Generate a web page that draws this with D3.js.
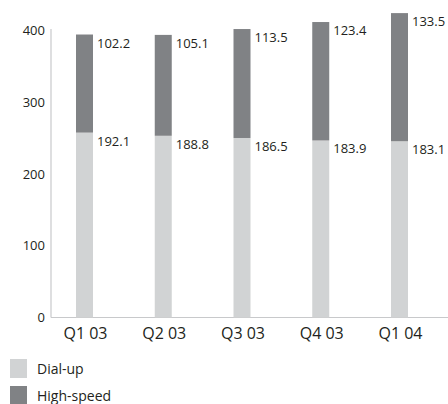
<!DOCTYPE html>
<html><head><meta charset="utf-8">
<script src="https://cdn.jsdelivr.net/npm/d3@7"></script>
<style>
html,body{margin:0;padding:0;background:#fff;}
svg{display:block;font-family:"Open Sans",sans-serif;}
</style></head>
<body><svg id="c" width="448" height="404"></svg>
<script>
const categories = ["Q1 03","Q2 03","Q3 03","Q4 03","Q1 04"];
const dialup = [192.1,188.8,186.5,183.9,183.1];
const highspeed = [102.2,105.1,113.5,123.4,133.5];
const yTicks = [0,100,200,300,400];
const seriesNames = ["Dial-up","High-speed"];
const colors = ["#d1d3d4","#808285"];

const svg = d3.select("#c");
const y0 = 317, yTop = 30;
const yAxis = d3.scaleLinear().domain([0,400]).range([y0,yTop]);
// bars in the original are drawn at a different vertical scale than the axis
const yBar = d3.scaleLinear().domain([0,299]).range([y0,yTop]);
const x = d3.scalePoint().domain(categories).range([84.5,399.5]);
const bw = 17;

// axis lines
svg.append("line").attr("x1",51).attr("x2",51).attr("y1",29).attr("y2",y0+0.5)
  .attr("stroke","#c8c9cb").attr("stroke-width",1.2);
svg.append("line").attr("x1",51).attr("x2",448).attr("y1",y0+0.5).attr("y2",y0+0.5)
  .attr("stroke","#c8c9cb").attr("stroke-width",1.2);

svg.selectAll("text.yt").data(yTicks).enter().append("text")
  .attr("class","yt").attr("x",45).attr("y",d=>yAxis(d)+5)
  .attr("text-anchor","end").attr("font-size",13).attr("fill","#231f20").text(d=>d);

const data = categories.map((c,i)=>({c, d:dialup[i], h:highspeed[i]}));
const g = svg.append("g");
g.selectAll("rect.d").data(data).enter().append("rect")
  .attr("x",d=>x(d.c)-bw/2).attr("width",bw)
  .attr("y",d=>yBar(d.d)).attr("height",d=>y0+0.5-yBar(d.d)).attr("fill",colors[0]);
g.selectAll("rect.h").data(data).enter().append("rect")
  .attr("x",d=>x(d.c)-bw/2).attr("width",bw)
  .attr("y",d=>yBar(d.d+d.h)).attr("height",d=>yBar(d.d)-yBar(d.d+d.h)).attr("fill",colors[1]);

g.selectAll("text.dl").data(data).enter().append("text")
  .attr("x",d=>x(d.c)+bw/2+4).attr("y",d=>yBar(d.d)+13)
  .attr("font-size",13).attr("fill","#231f20").text(d=>d.d.toFixed(1));
g.selectAll("text.hl").data(data).enter().append("text")
  .attr("x",d=>x(d.c)+bw/2+4).attr("y",d=>yBar(d.d+d.h)+13)
  .attr("font-size",13).attr("fill","#231f20").text(d=>d.h.toFixed(1));

svg.selectAll("text.xl").data(categories).enter().append("text")
  .attr("x",d=>x(d)+1).attr("y",339)
  .attr("text-anchor","middle").attr("font-size",16).attr("fill","#231f20").text(d=>d);

// legend
const lg = svg.selectAll("g.lg").data(seriesNames).enter().append("g")
  .attr("transform",(d,i)=>`translate(10,${359+i*27})`);
lg.append("rect").attr("width",17).attr("height",19).attr("fill",(d,i)=>colors[i]);
lg.append("text").attr("x",27).attr("y",15).attr("font-size",14).attr("fill","#231f20").text(d=>d);
</script></body></html>
